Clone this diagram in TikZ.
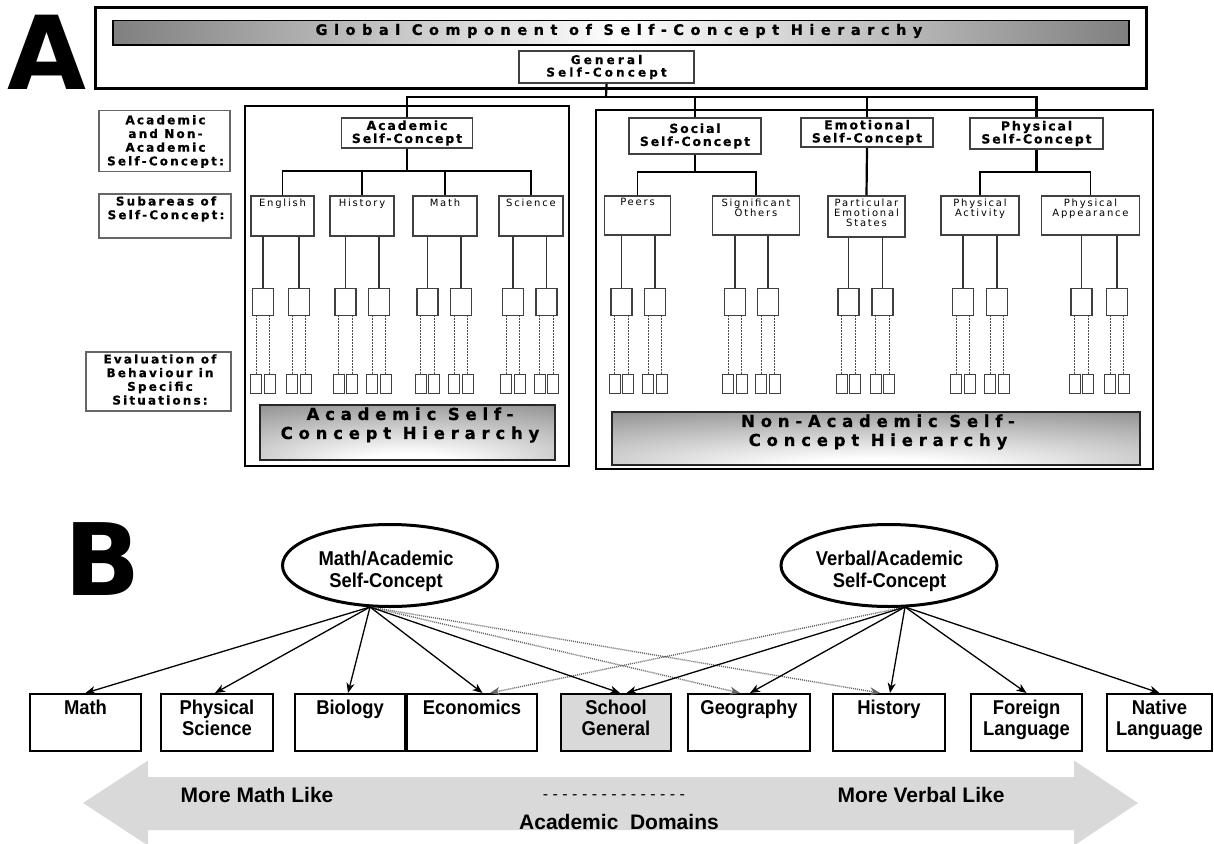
\documentclass[tikz,border=0pt]{standalone}
\usepackage{fontspec}
\setmainfont{Liberation Sans}
\newfontfamily\bfam[FakeStretch=0.92]{Liberation Sans}
\newfontfamily\dv{DejaVu Sans}
\usetikzlibrary{arrows.meta,shapes.geometric,calc}
\pgfdeclareradialshading{glow}{\pgfpoint{0bp}{-30bp}}{color(0bp)=(white); color(8bp)=(white); color(45bp)=(black!42); color(80bp)=(black!50)}
\newcommand\lsp[1]{\addfontfeatures{LetterSpace=#1}}
\newcommand\lspb[1]{\addfontfeatures{LetterSpace=#1,FakeBold=0.7}}
\begin{document}
\begin{tikzpicture}[x=1pt,y=-1pt,line join=miter,
  outer/.style={draw=black,line width=2.8pt,inner sep=0},
  labbox/.style={draw=black!60,line width=1.6pt,inner sep=0},
  labtxt/.style={align=center,inner sep=0,font=\dv\bfseries\fontsize{12}{13.7}\selectfont\lspb{18}},
  lvl/.style={draw=black!75,line width=1.6pt,fill=white,inner sep=0,align=center,font=\dv\bfseries\fontsize{12.5}{13}\selectfont\lspb{15}},
  subbox/.style={draw=black!75,line width=1.5pt,inner sep=0},
  subtxt/.style={anchor=north,align=center,inner sep=0,font=\dv\fontsize{10}{10.3}\selectfont\lsp{18}},
  sbox/.style={draw=black!75,line width=1.5pt,minimum width=21pt,minimum height=27pt,inner sep=0},
  tbox/.style={draw=black!75,line width=1.3pt,minimum width=11pt,minimum height=19pt,inner sep=0},
  hier/.style={line width=2.2pt},
  hiertwo/.style={line width=1.6pt},
  thinl/.style={line width=1.1pt,draw=black!80},
  dots/.style={line width=1pt,draw=black!70,dash pattern=on 1.5pt off 1.5pt},
  banner/.style={draw=black!85,line width=2pt,inner sep=0,shade,shading=glow},
  bantxt/.style={align=center,inner sep=0,font=\dv\bfseries\fontsize{16.5}{19}\selectfont\lspb{35}},
  bbox/.style={draw=black,line width=2pt,minimum height=57pt,inner sep=0},
  btxt/.style={anchor=north,align=center,inner sep=0,font=\bfam\bfseries\fontsize{20}{21.5}\selectfont},
  atxt/.style={inner sep=0,font=\bfseries\fontsize{21}{22}\selectfont},
  arr/.style={line width=1.3pt,-{Stealth[length=10pt,width=8pt,inset=3pt]}},
  darr/.style={line width=1.4pt,draw=black!60,dash pattern=on 1pt off 1pt,-{Stealth[length=10pt,width=8pt,inset=3pt]}}
]
\useasboundingbox (0,0) rectangle (1214,843);
\fill[white] (0,0) rectangle (1214,843);

% ---------------- Panel A ----------------
\node[inner sep=0,font=\dv\bfseries\fontsize{102}{102}\selectfont] (letA) at (47,52.5) {A};
\node[outer,minimum width=1051pt,minimum height=81pt] (topbox) at (621,48) {};
\node[draw=black,line width=1.8pt,minimum width=1016pt,minimum height=24.5pt,inner sep=0,
      left color=black!50,right color=black!50,middle color=white] (topban) at (621,32.75) {};
\node[inner sep=0,font=\dv\bfseries\fontsize{14.5}{16}\selectfont\lspb{45}] (toptxt) at (619,31) {Global Component of Self-Concept Hierarchy};
\node[lvl,minimum width=175pt,minimum height=32pt,font=\dv\bfseries\fontsize{12}{12.5}\selectfont\lspb{26}] (gen) at (606.5,67) {General\\Self-Concept};

\node[outer,minimum width=324pt,minimum height=360pt] (acadbox) at (407,286) {};
\node[outer,minimum width=557pt,minimum height=359pt] (nonbox) at (874.5,289.5) {};

% left labels
\node[labbox,minimum width=131pt,minimum height=61pt] (lab1) at (164.5,141) {};
\node[labtxt] (lab1t) at (165.5,141.5) {Academic\\and Non-\\Academic\\Self-Concept:};
\node[labbox,minimum width=132pt,minimum height=44pt] (lab2) at (165,216) {};
\node[labtxt] (lab2t) at (166,209) {Subareas of\\Self-Concept:};
\node[labbox,minimum width=145pt,minimum height=59pt] (lab3) at (158.5,381.5) {};
\node[labtxt] (lab3t) at (160,379.5) {Evaluation of\\Behaviour in\\Specific\\Situations:};

% level-2 boxes
\node[lvl,minimum width=131pt,minimum height=30pt] (acad) at (407,133) {Academic\\Self-Concept};
\node[lvl,minimum width=132pt,minimum height=36pt] (soc) at (695,136) {Social\\Self-Concept};
\node[lvl,minimum width=132pt,minimum height=29pt] (emo) at (867,132.5) {Emotional\\Self-Concept};
\node[lvl,minimum width=133pt,minimum height=31pt] (phys) at (1036.5,133.5) {Physical\\Self-Concept};

\coordinate (hub) at (606,97);
\draw[hier] (gen.south) -- (hub);
\draw[hier] (acad.north) |- (hub) -| (phys.north);
\draw[hier] (soc.north) -- (soc.north |- hub);
\draw[hier] (emo.north) -- (emo.north |- hub);

% subareas academic
\node[subbox,minimum width=63pt,minimum height=40pt] (s1) at (282.5,216) {};
\node[subbox,minimum width=64pt,minimum height=40pt] (s2) at (362,216) {};
\node[subbox,minimum width=64pt,minimum height=40pt] (s3) at (445,216) {};
\node[subbox,minimum width=64pt,minimum height=40pt] (s4) at (531,216) {};
\node[subtxt] (s1t) at ([yshift=-3pt]s1.north) {English};
\node[subtxt] (s2t) at ([yshift=-3pt]s2.north) {History};
\node[subtxt] (s3t) at ([yshift=-3pt]s3.north) {Math};
\node[subtxt] (s4t) at ([yshift=-3pt]s4.north) {Science};
\coordinate (ha) at (407,171);
\draw[hier] (acad.south) -- (ha);
\draw[hiertwo] (s1.north) |- (ha) -| (s4.north);
\draw[hiertwo] (s2.north) -- (s2.north |- ha);
\draw[hiertwo] (s3.north) -- (s3.north |- ha);

% subareas non-academic
\node[subbox,minimum width=66pt,minimum height=39pt] (s5) at (637.5,215.5) {};
\node[subbox,minimum width=87pt,minimum height=39pt] (s6) at (756,215.5) {};
\node[subbox,minimum width=77pt,minimum height=41pt] (s7) at (866.5,216.5) {};
\node[subbox,minimum width=78pt,minimum height=39pt] (s8) at (980,215.5) {};
\node[subbox,minimum width=98pt,minimum height=39pt] (s9) at (1090.5,215.5) {};
\node[subtxt] (s5t) at ([yshift=-3pt]s5.north) {Peers};
\node[subtxt] (s6t) at ([yshift=-3pt]s6.north) {Significant\\Others};
\node[subtxt] (s7t) at ([yshift=-3pt]s7.north) {Particular\\Emotional\\States};
\node[subtxt] (s8t) at ([yshift=-3pt]s8.north) {Physical\\Activity};
\node[subtxt] (s9t) at ([yshift=-3pt]s9.north) {Physical\\Appearance};
\coordinate (hs) at (698,172);
\draw[hier] (soc.south) -- (soc.south |- hs);
\draw[hiertwo] (s5.north) |- (hs) -| (s6.north);
\draw[hier] (emo.south) -- (s7.north);
\coordinate (hp) at (1036.5,172);
\draw[hier] (phys.south) -- (hp);
\draw[hiertwo] (s8.north) |- (hp) -| (s9.north);

% specific behaviour boxes
\foreach \x/\p [count=\i] in {263/s1,299/s1,345.5/s2,379/s2,427.5/s3,461/s3,513/s4,546.5/s4,
    621.5/s5,655/s5,735/s6,768/s6,848.5/s7,882.5/s7,963/s8,997/s8,1081.5/s9,1117/s9}{
  \node[sbox] (sb\i) at (\x,302) {};
  \draw[thinl] (sb\i.north) -- (sb\i.north |- \p.south);
  \node[tbox] (ta\i) at (\x-6.8,384) {};
  \node[tbox] (tb\i) at (\x+6.8,384) {};
  \draw[dots] (ta\i.north) -- (ta\i.north |- sb\i.south);
  \draw[dots] (tb\i.north) -- (tb\i.north |- sb\i.south);
}

% banners
\node[banner,minimum width=295pt,minimum height=55pt] (acadban) at (407.5,432.5) {};
\node[bantxt] (acadbt) at (410,425) {Academic Self-\\Concept Hierarchy};
\node[banner,minimum width=528pt,minimum height=53pt] (nonban) at (876,438.5) {};
\node[bantxt] (nonbt) at (878,432) {Non-Academic Self-\\Concept Hierarchy};

% ---------------- Panel B ----------------
\node[inner sep=0,font=\dv\bfseries\fontsize{100}{100}\selectfont] (letB) at (102.5,559.5) {B};

\fill[black!15] (83,803) -- (148,760.5) -- (148,777) -- (1074,777) -- (1074,760.5) -- (1138,803)
  -- (1074,845.5) -- (1074,830) -- (148,830) -- (148,845.5) -- cycle;
\node[atxt] (mml) at (257,795) {More Math Like};
\node[atxt] (mvl) at (921,795) {More Verbal Like};
\node[inner sep=0,font=\fontsize{16}{16}\selectfont] (dsh) at (614,797) {- - - - - - - - - - - - - - -};
\node[atxt] (adom) at (619,822) {Academic\ \ Domains};

\node[ellipse,draw,line width=3pt,minimum width=215pt,minimum height=82pt,inner sep=0] (mE) at (390,565.5) {};
\node[btxt] (mEt) at (386,551) {Math/Academic\\Self-Concept};
\node[ellipse,draw,line width=3pt,minimum width=216pt,minimum height=82pt,inner sep=0] (vE) at (889,565.5) {};
\node[btxt] (vEt) at (889.5,551) {Verbal/Academic\\Self-Concept};

\node[bbox,minimum width=111pt] (bMath) at (85.5,722.5) {};
\node[bbox,minimum width=112pt] (bPhys) at (217,722.5) {};
\node[bbox,minimum width=110pt] (bBio) at (350,722.5) {};
\node[bbox,minimum width=130pt] (bEco) at (472,722.5) {};
\node[bbox,minimum width=110pt,fill=black!15] (bSch) at (616,722.5) {};
\node[bbox,minimum width=122pt] (bGeo) at (749,722.5) {};
\node[bbox,minimum width=112pt] (bHist) at (889,722.5) {};
\node[bbox,minimum width=111pt] (bFor) at (1026.5,722.5) {};
\node[bbox,minimum width=105pt] (bNat) at (1159.5,722.5) {};

\node[btxt] (tMath) at ([yshift=-6.5pt]bMath.north) {Math};
\node[btxt] (tPhys) at ([yshift=-6.5pt]bPhys.north) {Physical\\Science};
\node[btxt] (tBio) at ([yshift=-6.5pt]bBio.north) {Biology};
\node[btxt] (tEco) at ([yshift=-6.5pt]bEco.north) {Economics};
\node[btxt] (tSch) at ([yshift=-6.5pt]bSch.north) {School\\General};
\node[btxt] (tGeo) at ([yshift=-6.5pt]bGeo.north) {Geography};
\node[btxt] (tHist) at ([yshift=-6.5pt]bHist.north) {History};
\node[btxt] (tFor) at ([yshift=-6.5pt]bFor.north) {Foreign\\Language};
\node[btxt] (tNat) at ([yshift=-6.5pt]bNat.north) {Native\\Language};

\coordinate (mO) at (370,607);
\coordinate (vO) at (905,607);
\draw[darr] (mO) -- ([xshift=-9pt]bGeo.north);
\draw[darr] (mO) -- ([xshift=-9pt]bHist.north);
\draw[darr] (vO) -- ([xshift=18pt]bEco.north);
\draw[arr] (mO) -- (bMath.north);
\draw[arr] (mO) -- ([xshift=-2pt]bPhys.north);
\draw[arr] (mO) -- ([xshift=-2pt]bBio.north);
\draw[arr] (mO) -- ([xshift=10.5pt]bEco.north);
\draw[arr] (mO) -- ([xshift=4pt]bSch.north);
\draw[arr] (vO) -- ([xshift=10.5pt]bSch.north);
\draw[arr] (vO) -- ([xshift=1pt]bGeo.north);
\draw[arr] (vO) -- ([xshift=1pt]bHist.north);
\draw[arr] (vO) -- (bFor.north);
\draw[arr] (vO) -- (bNat.north);
\end{tikzpicture}
\end{document}
